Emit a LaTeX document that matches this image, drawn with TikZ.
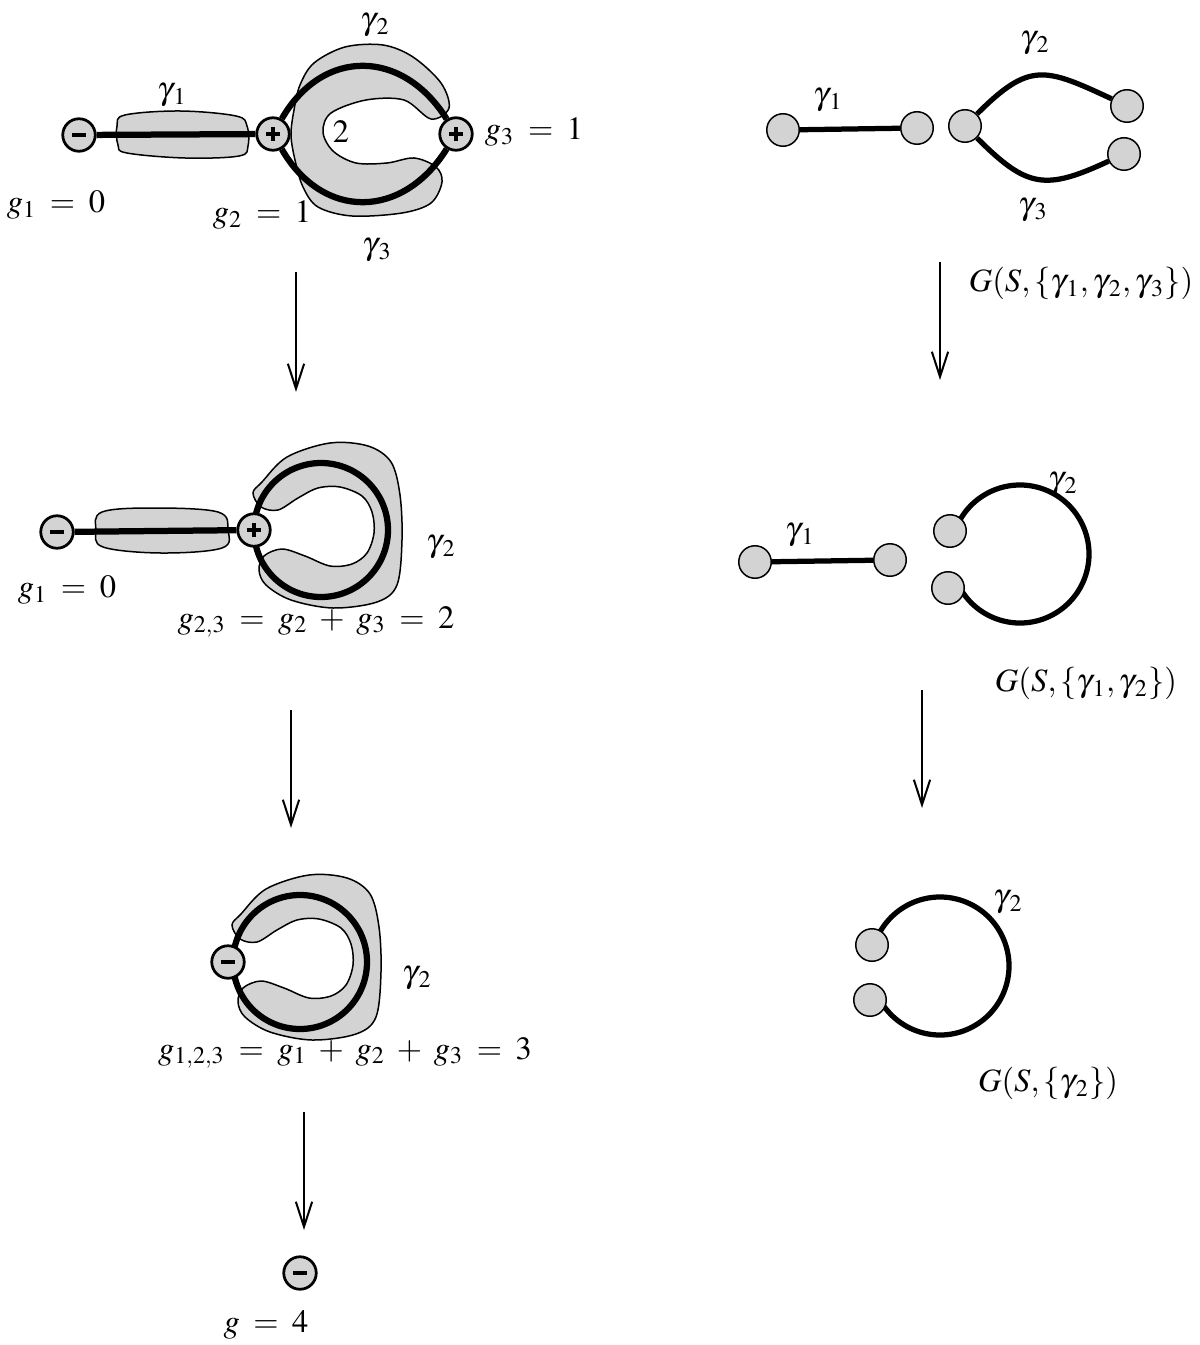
\documentclass[tikz,border=0pt]{standalone}
\usepackage{mathptmx}
\usetikzlibrary{arrows.meta}
\definecolor{shade}{RGB}{211,211,211}
\DeclareMathSizes{13}{13}{9.6}{7.5}
\newcommand\gm[1]{\gamma_{\kern1.2pt #1}}
\newcommand\widemath{\thickmuskip=7.5mu plus 5mu\relax\medmuskip=6.5mu plus 2mu minus 4mu\relax}
\begin{document}
\begin{tikzpicture}[x=0.4pt,y=0.4pt,
  font=\fontsize{13}{15}\selectfont\widemath,
  blob/.style={fill=shade, draw=black, line width=0.6pt},
  heavy/.style={line width=2.5pt},
  medium/.style={line width=2.1pt},
  pmnode/.style={circle, draw=black, line width=1.1pt, fill=shade, minimum size=13pt, inner sep=0pt},
  minusnode/.style={pmnode, path picture={\draw[line width=1.5pt] ([xshift=-2.8pt]path picture bounding box.center) -- ([xshift=2.8pt]path picture bounding box.center);}},
  plusnode/.style={pmnode, path picture={\draw[line width=1.5pt] ([xshift=-2.8pt]path picture bounding box.center) -- ([xshift=2.8pt]path picture bounding box.center) ([yshift=-2.8pt]path picture bounding box.center) -- ([yshift=2.8pt]path picture bounding box.center);}},
  vertex/.style={circle, draw=black, line width=0.6pt, fill=shade, minimum size=13pt, inner sep=0pt},
  flow/.style={line width=0.8pt, -{Straight Barb[length=10pt,width=6.5pt]}},
  lbl/.style={inner sep=1pt}
]
\path[use as bounding box] (0,0) rectangle (1199,-1345);

% ---------------- Panel A ----------------
\filldraw[blob] plot[smooth cycle,tension=0.6] coordinates {(125,-115) (180,-111) (236,-116) (247,-126) (248,-146) (239,-156) (185,-158) (127,-153) (118,-145) (117,-126)};
\filldraw[blob] plot[smooth cycle,tension=0.55] coordinates {(449,-108) (441,-83) (413,-57) (383,-45) (345,-47) (314,-63) (300,-85) (294,-110) (291,-135) (295,-160) (303,-187) (318,-207) (352,-216) (402,-213) (431,-203) (442,-182) (436,-167) (414,-158) (387,-163) (356,-163) (333,-151) (323,-132) (331,-113) (366,-100) (404,-100) (431,-119)};
\node[minusnode] (a1) at (79,-135) {};
\node[plusnode] (a2) at (273,-134) {};
\node[plusnode] (a3) at (456,-134) {};
\draw[heavy] (a1) -- (a2);
\draw[heavy] (a2) to[out=60,in=122,looseness=1.28] (a3);
\draw[heavy] (a2) to[out=-60,in=-122,looseness=1.28] (a3);
\node[lbl] (ag1l) at (172,-95) {$\gm{1}$};
\node[lbl] (ag2l) at (375,-25) {$\gm{2}$};
\node[lbl] (ag3l) at (377,-250) {$\gm{3}$};
\node[lbl] (atwo) at (341,-132) {$2$};
\node[lbl] (ag1) at (56,-205) {$g_1 = 0$};
\node[lbl] (ag2) at (262,-215) {$g_2 = 1$};
\node[lbl] (ag3) at (534,-132) {$g_3 = 1$};

% ---------------- Panel B ----------------
\filldraw[blob] plot[smooth cycle,tension=0.6] coordinates {(102,-512) (153,-508) (218,-512) (228,-530) (222,-548) (161,-553) (103,-547) (96,-530)};
\filldraw[blob] plot[smooth cycle,tension=0.55] coordinates {(253,-493) (262,-482) (287,-457) (330,-443) (368,-446) (391,-462) (400,-495) (402,-540) (397,-585) (377,-602) (333,-608) (291,-600) (266,-585) (259,-570) (264,-556) (282,-549) (305,-556) (330,-566) (352,-564) (367,-553) (374,-533) (372,-512) (362,-496) (340,-487) (318,-488) (298,-498) (278,-510) (261,-507)};
\coordinate (bc) at (321,-530);
\draw[heavy] (bc) circle[radius=67];
\node[minusnode] (b1) at (57,-532) {};
\node[plusnode] (b2) at (254,-530) {};
\draw[heavy] (b1) -- (b2);
\node[lbl] (bg1) at (67,-590) {$g_1 = 0$};
\node[lbl] (bgam) at (441,-547) {$\gm{2}$};
\node[lbl] (bg23) at (316,-622) {$g_{2,3} = g_2 + g_3 = 2$};

% ---------------- Panel C ----------------
\begin{scope}[shift={(-21,-432)}]
\filldraw[blob] plot[smooth cycle,tension=0.55] coordinates {(253,-493) (262,-482) (287,-457) (330,-443) (368,-446) (391,-462) (400,-495) (402,-540) (397,-585) (377,-602) (333,-608) (291,-600) (266,-585) (259,-570) (264,-556) (282,-549) (305,-556) (330,-566) (352,-564) (367,-553) (374,-533) (372,-512) (362,-496) (340,-487) (318,-488) (298,-498) (278,-510) (261,-507)};
\end{scope}
\coordinate (cc) at (300,-962);
\draw[heavy] (cc) circle[radius=67];
\node[minusnode] (c1) at (228,-962) {};
\node[lbl] (cgam) at (417,-978) {$\gm{2}$};
\node[lbl] (cg123) at (345,-1053) {$g_{1,2,3} = g_1 + g_2 + g_3 = 3$};

% ---------------- Panel D ----------------
\node[minusnode] (d1) at (300,-1273) {};
\node[lbl] (dg) at (266,-1325) {$g = 4$};

% left arrows
\coordinate (ar1s) at (296,-272); \coordinate (ar1e) at (296,-392);
\coordinate (ar2s) at (291,-710); \coordinate (ar2e) at (291,-828);
\coordinate (ar3s) at (304,-1112); \coordinate (ar3e) at (304,-1230);
\draw[flow] (ar1s) -- (ar1e);
\draw[flow] (ar2s) -- (ar2e);
\draw[flow] (ar3s) -- (ar3e);

% ---------------- Panel E ----------------
\node[vertex] (e1) at (783,-130) {};
\node[vertex] (e2) at (917,-128) {};
\node[vertex] (e3) at (965,-126) {};
\node[vertex] (e4) at (1127,-106) {};
\node[vertex] (e5) at (1124,-154) {};
\draw[medium] (e1) -- (e2);
\draw[medium] (e3) to[out=45,in=155,looseness=1.4] (e4);
\draw[medium] (e3) to[out=-45,in=-155,looseness=1.35] (e5);
\node[lbl] (eg1) at (828,-100) {$\gm{1}$};
\node[lbl] (eg2) at (1035,-43) {$\gm{2}$};
\node[lbl] (eg3) at (1033,-210) {$\gm{3}$};
\node[lbl] (eG) at (1081,-283) {$G(S,\{\gm{1},\gm{2},\gm{3}\})$};

% ---------------- Panel F ----------------
\coordinate (fc) at (1020,-554);
\draw[medium] (fc) ++(162:69) arc[start angle=162,end angle=-155,radius=69];
\node[vertex] (f1) at (755,-562) {};
\node[vertex] (f2) at (890,-560) {};
\node[vertex] (f3) at (950,-531) {};
\node[vertex] (f4) at (948,-588) {};
\draw[medium] (f1) -- (f2);
\node[lbl] (fg1) at (800,-535) {$\gm{1}$};
\node[lbl] (fg2) at (1063,-484) {$\gm{2}$};
\node[lbl] (fG) at (1086,-683) {$G(S,\{\gm{1},\gm{2}\})$};

% ---------------- Panel G ----------------
\coordinate (gc) at (940,-966);
\draw[medium] (gc) ++(163:69) arc[start angle=163,end angle=-154,radius=69];
\node[vertex] (g3n) at (872,-945) {};
\node[vertex] (g4n) at (870,-1000) {};
\node[lbl] (gg2) at (1008,-902) {$\gm{2}$};
\node[lbl] (gG) at (1048,-1083) {$G(S,\{\gm{2}\})$};

% right arrows
\coordinate (ar4s) at (940,-262); \coordinate (ar4e) at (940,-380);
\coordinate (ar5s) at (922,-690); \coordinate (ar5e) at (922,-808);
\draw[flow] (ar4s) -- (ar4e);
\draw[flow] (ar5s) -- (ar5e);
\end{tikzpicture}
\end{document}
